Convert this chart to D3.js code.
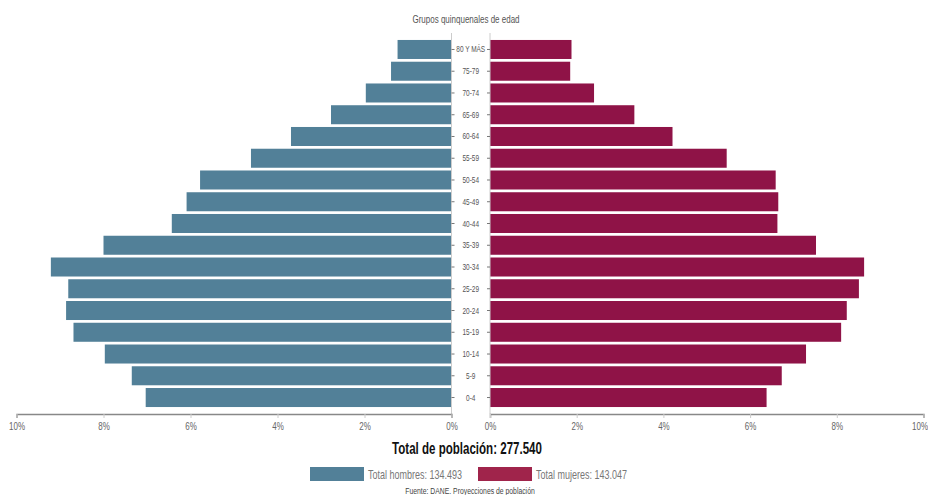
<!DOCTYPE html>
<html lang="es">
  <head>
    <meta charset="utf-8" />
    <title>Pirámide poblacional</title>
    <script src="https://d3js.org/d3.v7.min.js"></script>
    <style>
      body { margin: 0; background: #fff; }
      svg { display: block; font-family: "Liberation Sans", Arial, sans-serif; }
    </style>
  </head>
  <body>
    <script type="text/javascript">
      // grupos de edad, de arriba hacia abajo
      const ages = ["80 Y MÁS", "75-79", "70-74", "65-69", "60-64", "55-59", "50-54", "45-49",
        "40-44", "35-39", "30-34", "25-29", "20-24", "15-19", "10-14", "5-9", "0-4"];

      // % sobre el total de cada sexo
      const men = [1.24, 1.39, 1.97, 2.77, 3.69, 4.61, 5.78, 6.09, 6.43, 8.0, 9.21, 8.81, 8.86, 8.69, 7.97, 7.35, 7.03];
      const women = [1.88, 1.85, 2.4, 3.33, 4.21, 5.46, 6.59, 6.65, 6.63, 7.52, 8.63, 8.51, 8.23, 8.1, 7.29, 6.73, 6.38];

      const pctTicks = [0, 2, 4, 6, 8, 10];
      const totalLabel = "Total de población: 277.540";
      const legendLabels = ["Total hombres: 134.493", "Total mujeres: 143.047"];
      const source = "Fuente: DANE. Proyecciones de población";

      const w = 928, h = 495;
      const blue = "#528098", red = "#8f1347";

      const svg = d3.select("body").append("svg").attr("width", w).attr("height", h);

      const xLeft = d3.scaleLinear().domain([0, 10]).range([451.5, 16.5]);
      const xRight = d3.scaleLinear().domain([0, 10]).range([490, 923.5]);
      const y = d3.scaleBand().domain(ages).range([38.6, 408.4]).paddingInner(0.126).paddingOuter(0.063);

      // barras hombres
      svg.selectAll("rect.men")
        .data(men)
        .enter()
        .append("rect")
        .attr("class", "men")
        .attr("x", (d) => xLeft(d))
        .attr("y", (d, i) => y(ages[i]))
        .attr("width", (d) => xLeft(0) - xLeft(d))
        .attr("height", y.bandwidth())
        .attr("fill", blue);

      // barras mujeres
      svg.selectAll("rect.women")
        .data(women)
        .enter()
        .append("rect")
        .attr("class", "women")
        .attr("x", xRight(0))
        .attr("y", (d, i) => y(ages[i]))
        .attr("width", (d) => xRight(d) - xRight(0))
        .attr("height", y.bandwidth())
        .attr("fill", red);

      // ejes verticales centrales
      const axisY0 = 33, axisY1 = 414;
      [xLeft(0), xRight(0)].forEach((xx) => {
        svg.append("line")
          .attr("x1", xx).attr("x2", xx)
          .attr("y1", axisY0).attr("y2", axisY1)
          .attr("stroke", "#ccc").attr("stroke-width", 1);
      });

      // marcas y etiquetas de edad
      const ageG = svg.append("g");
      ages.forEach((a) => {
        const cy = y(a) + y.bandwidth() / 2;
        ageG.append("line").attr("x1", xLeft(0)).attr("x2", xLeft(0) + 3)
          .attr("y1", cy).attr("y2", cy).attr("stroke", "#777");
        ageG.append("line").attr("x1", xRight(0) - 3).attr("x2", xRight(0))
          .attr("y1", cy).attr("y2", cy).attr("stroke", "#777");
        ageG.append("text")
          .attr("transform", `translate(${(xLeft(0) + xRight(0)) / 2},${cy + 3}) scale(0.72,1)`)
          .attr("text-anchor", "middle")
          .attr("font-size", "9px")
          .attr("fill", "#555")
          .text(a);
      });

      // ejes horizontales
      const fmt = (d) => d + "%";
      const axL = svg.append("g").attr("transform", `translate(0,${axisY1})`)
        .call(d3.axisBottom(xLeft).tickValues(pctTicks).tickFormat(fmt).tickSize(4));
      const axR = svg.append("g").attr("transform", `translate(0,${axisY1})`)
        .call(d3.axisBottom(xRight).tickValues(pctTicks).tickFormat(fmt).tickSize(4));
      [axL, axR].forEach((ax) => {
        ax.select(".domain").attr("stroke", "#888").attr("stroke-width", 1.5);
        ax.selectAll(".tick line").attr("stroke", "#ccc");
        ax.selectAll(".tick text")
          .attr("font-family", "Liberation Sans, Arial, sans-serif")
          .attr("font-size", "10px")
          .attr("fill", "#666")
          .attr("y", 9)
          .attr("transform", "scale(0.8,1)");
      });
      // la última etiqueta queda al borde: se alinea a la derecha
      axR.selectAll(".tick text").filter((d) => d === 10)
        .attr("text-anchor", "end")
        .attr("x", 5);

      // titulo grupos
      svg.append("text")
        .attr("transform", `translate(466,23) scale(0.8,1)`)
        .attr("text-anchor", "middle")
        .attr("font-size", "10px")
        .attr("fill", "#555")
        .text("Grupos quinquenales de edad");

      // total
      svg.append("text")
        .attr("transform", `translate(467,454) scale(0.68,1)`)
        .attr("text-anchor", "middle")
        .attr("font-size", "17px")
        .attr("font-weight", "bold")
        .attr("fill", "#111")
        .text(totalLabel);

      // leyenda
      const legX = [310, 478];
      [blue, red].forEach((c, i) => {
        svg.append("rect")
          .attr("x", legX[i]).attr("y", 467)
          .attr("width", 54).attr("height", 14)
          .attr("fill", i === 0 ? c : "#a0244b");
        svg.append("text")
          .attr("transform", `translate(${legX[i] + 58},478.5) scale(0.72,1)`)
          .attr("font-size", "12.5px")
          .attr("fill", "#777")
          .text(legendLabels[i]);
      });

      // fuente
      svg.append("text")
        .attr("transform", `translate(470,494) scale(0.72,1)`)
        .attr("text-anchor", "middle")
        .attr("font-size", "9.5px")
        .attr("fill", "#444")
        .text(source);
    </script>
  </body>
</html>
